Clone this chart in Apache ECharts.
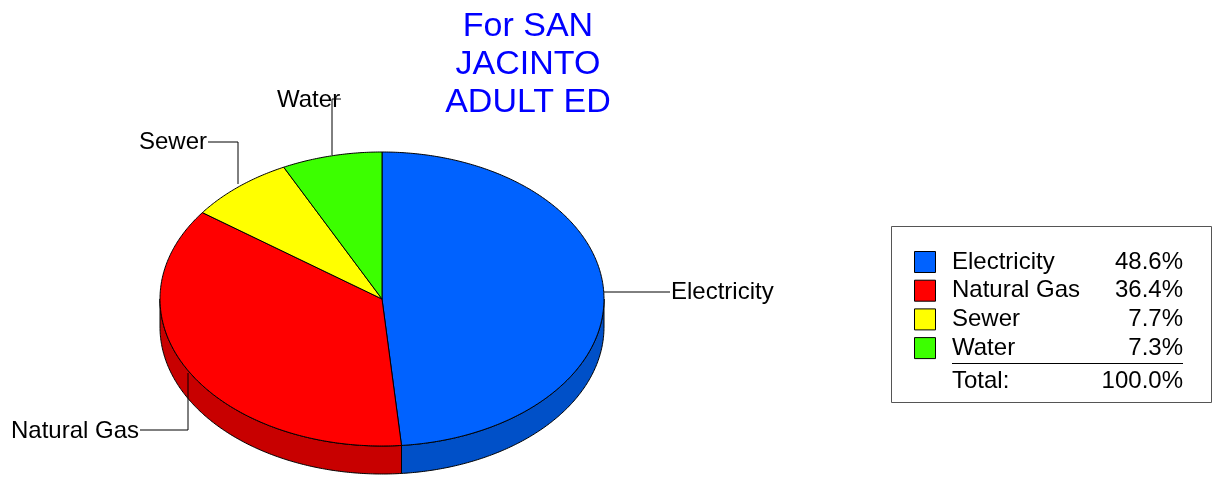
<!DOCTYPE html>
<html><head><meta charset="utf-8">
<script src="https://cdn.jsdelivr.net/npm/echarts@6/dist/echarts.min.js"></script>
<style>html,body{margin:0;padding:0;background:#fff}#c{width:1215px;height:477px}</style>
</head><body><div id="c"></div>
<script>
const categories = ['Electricity', 'Natural Gas', 'Sewer', 'Water'];
const values = [48.6, 36.4, 7.7, 7.3];
const topColors = ['#0062ff', '#ff0000', '#ffff00', '#3cff00'];
const sideColors = ['#0050c8', '#c80000', '#c8c800', '#30c800'];
const titleLines = ['For SAN', 'JACINTO', 'ADULT ED'];

const FONT = '"Liberation Sans", Arial, sans-serif';
const CX = 382, CY = 299, RX = 222, RY = 147, DEPTH = 28;
const total = values.reduce((a, b) => a + b, 0);
const starts = [];
{ let acc = 0; for (const v of values) { starts.push(acc); acc += v; } }

function pt(theta, dy) {
  return [CX + RX * Math.sin(theta), CY - RY * Math.cos(theta) + (dy || 0)];
}
function arcPts(a0, a1, dy) {
  const n = Math.max(2, Math.ceil(Math.abs(a1 - a0) / 0.01));
  const out = [];
  for (let i = 0; i <= n; i++) out.push(pt(a0 + (a1 - a0) * i / n, dy));
  return out;
}

function renderItem(params, api) {
  const idx = params.dataIndex;
  const v = api.value(0);
  const a0 = starts[idx] / total * Math.PI * 2;
  const a1 = a0 + v / total * Math.PI * 2;
  const children = [];
  const s0 = Math.max(a0, Math.PI / 2), s1 = Math.min(a1, Math.PI * 1.5);
  if (s1 > s0) {
    const top = arcPts(s0, s1, 0);
    const bot = arcPts(s1, s0, DEPTH);
    children.push({
      type: 'polygon', shape: { points: top.concat(bot) },
      style: { fill: sideColors[idx], stroke: '#000', lineWidth: 1 }
    });
  }
  const pts = [[CX, CY]].concat(arcPts(a0, a1, 0));
  children.push({
    type: 'polygon', shape: { points: pts },
    style: { fill: topColors[idx], stroke: '#000', lineWidth: 1 }
  });
  return { type: 'group', children: children };
}

const labelLayout = [
  { line: [[604, 292], [670, 292]], text: [671, 292], align: 'left' },
  { line: [[188, 373], [188, 430], [140, 430]], text: [139, 431], align: 'right' },
  { line: [[238, 184], [238, 142], [208, 142]], text: [207, 142], align: 'right' },
  { line: [[332, 155], [332, 99], [341, 99]], text: [277, 100], align: 'left' }
];
const LF = '24px ' + FONT;
const graphics = [];
labelLayout.forEach((l, i) => {
  graphics.push({ type: 'polyline', shape: { points: l.line }, style: { stroke: '#000', lineWidth: 1, fill: null }, z: 10 });
  graphics.push({ type: 'text', x: l.text[0], y: l.text[1], style: { text: categories[i], font: LF, fill: '#000', align: l.align, verticalAlign: 'middle' }, z: 11 });
});
titleLines.forEach((t, i) => {
  graphics.push({ type: 'text', x: 528, y: 27 + i * 38, style: { text: t, font: '34px ' + FONT, fill: '#0000ff', align: 'center', verticalAlign: 'middle' } });
});
graphics.push({ type: 'rect', shape: { x: 891.5, y: 226.5, width: 320, height: 176 }, style: { fill: '#fff', stroke: '#555', lineWidth: 1 } });
categories.forEach((c, i) => {
  const y = 262 + i * 28.7;
  graphics.push({ type: 'rect', shape: { x: 914.5, y: y - 10.5, width: 21, height: 21 }, style: { fill: topColors[i], stroke: '#000', lineWidth: 1 } });
  graphics.push({ type: 'text', x: 952, y: y, style: { text: c, font: LF, fill: '#000', align: 'left', verticalAlign: 'middle' } });
  graphics.push({ type: 'text', x: 1183, y: y, style: { text: (values[i] / total * 100).toFixed(1) + '%', font: LF, fill: '#000', align: 'right', verticalAlign: 'middle' } });
});
graphics.push({ type: 'line', shape: { x1: 952, y1: 363.5, x2: 1183, y2: 363.5 }, style: { stroke: '#000', lineWidth: 1 } });
graphics.push({ type: 'text', x: 952, y: 381, style: { text: 'Total:', font: LF, fill: '#000', align: 'left', verticalAlign: 'middle' } });
graphics.push({ type: 'text', x: 1183, y: 381, style: { text: (total / total * 100).toFixed(1) + '%', font: LF, fill: '#000', align: 'right', verticalAlign: 'middle' } });

const chart = echarts.init(document.getElementById('c'));
chart.setOption({
  animation: false,
  backgroundColor: '#fff',
  series: [{
    type: 'custom',
    coordinateSystem: 'none',
    renderItem: renderItem,
    data: values.map((v, i) => ({ name: categories[i], value: [v] }))
  }],
  graphic: graphics
});
</script></body></html>
